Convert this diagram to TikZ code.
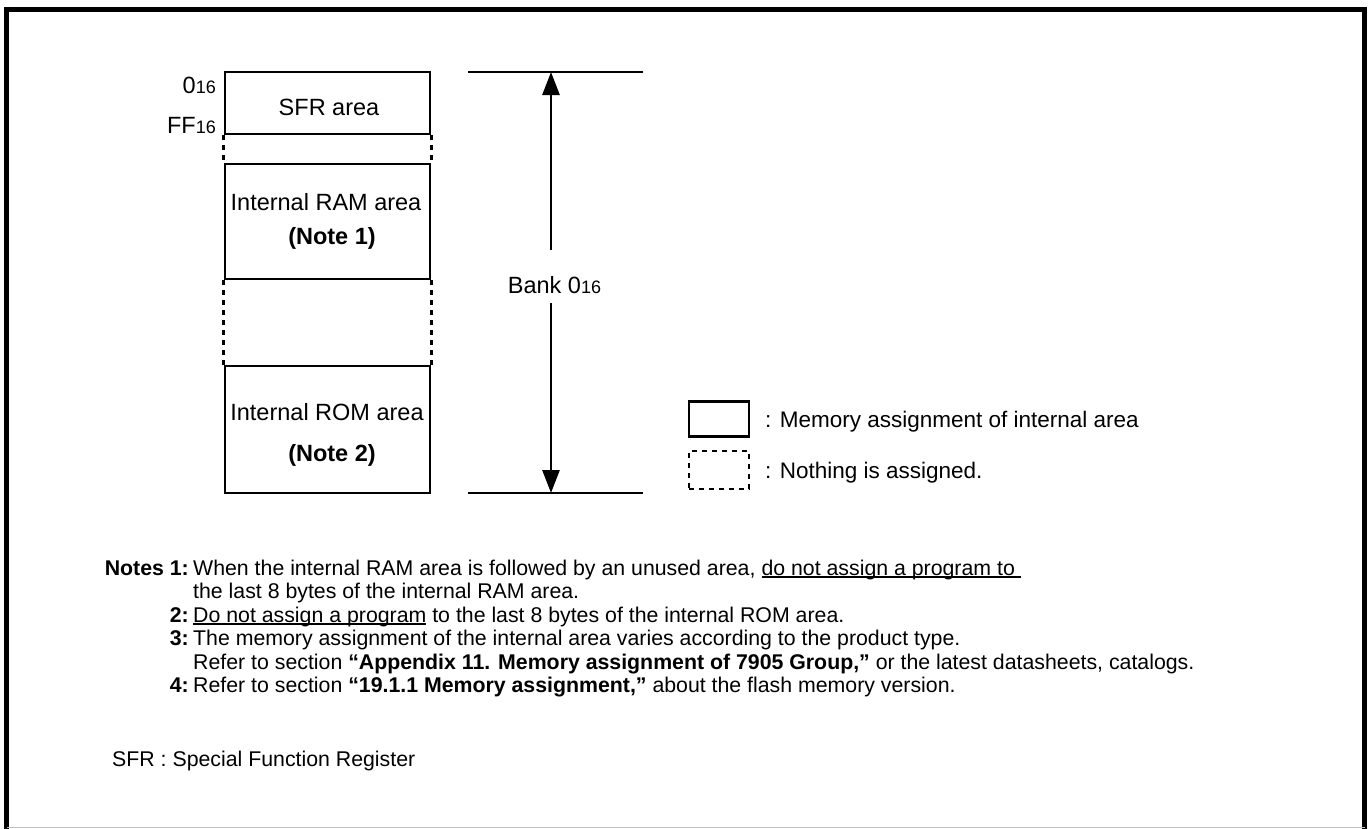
\documentclass[tikz,border=0pt]{standalone}
\usepackage{fontspec}
\setmainfont{Liberation Sans}
\usetikzlibrary{arrows.meta}
\newcommand{\diagfont}{\fontsize{23.5}{27}\selectfont}
\newcommand{\legfont}{\fontsize{22.5}{26}\selectfont}
\newcommand{\subfont}{\fontsize{18}{18}\selectfont}
\newcommand{\notesfont}{\fontsize{21.3}{25}\selectfont}
\newcommand{\hx}[1]{{\subfont #1}}
\newcommand{\ul}[1]{{\setbox0\hbox{#1}\rlap{\rule[-2.6pt]{\wd0}{1.3pt}}\box0}}
\begin{document}
\begin{tikzpicture}[x=1pt,y=-1pt,
  membox/.style={draw, line width=2.7pt, inner sep=0pt},
  dashline/.style={line width=2.4pt, dash pattern=on 5pt off 5pt},
  dtxt/.style={inner sep=0pt, font=\diagfont},
  ltxt/.style={inner sep=0pt, font=\legfont},
  ntxt/.style={inner sep=0pt, font=\notesfont},
  rule/.style={line width=1.4pt},
  bankarrow/.style={line width=2.6pt, -{Triangle[width=17pt,length=23pt]}},
  frameline/.style={line width=5pt}]
\useasboundingbox (0,0) rectangle (1369,828);
% frame
\draw[frameline] (6.5,830) -- (6.5,9) -- (1364.5,9) -- (1364.5,830);
\draw[line width=0.8pt, black!25] (6.5,827) -- (1364.5,827);

% memory boxes
\node[membox, minimum width=205pt, minimum height=62pt] (sfr) at (327.5,103) {};
\node[membox, minimum width=205pt, minimum height=115pt] (ram) at (327.5,221.5) {};
\node[membox, minimum width=205pt, minimum height=127pt] (rom) at (327.5,429.5) {};
\draw[dashline] (sfr.south west) -- (ram.north west);
\draw[dashline] (sfr.south east) -- (ram.north east);
\draw[dashline] (ram.south west) -- (rom.north west);
\draw[dashline] (ram.south east) -- (rom.north east);

% box texts
\node[dtxt, anchor=base] (sfrt) at (329,115) {SFR area};
\node[dtxt, anchor=base] (ramt) at (326,210) {Internal RAM area};
\node[dtxt, anchor=base] (ramn) at (332,244) {\bfseries (Note 1)};
\node[dtxt, anchor=base] (romt) at (327,420) {Internal ROM area};
\node[dtxt, anchor=base] (romn) at (332,461) {\bfseries (Note 2)};

% addresses
\node[dtxt, anchor=base east] (a0) at (216,93) {0\hx{16}};
\node[dtxt, anchor=base east] (aff) at (216,133) {FF\hx{16}};

% bank dimension
\coordinate (tl) at (468,72);
\coordinate (tr) at (643,72);
\coordinate (bl) at (468,493);
\coordinate (br) at (643,493);
\draw[rule] (tl) -- (tr);
\draw[rule] (bl) -- (br);
\node[dtxt, anchor=base] (bank) at (554.5,293) {Bank 0\hx{16}};
\coordinate (upfrom) at (551,250);
\coordinate (upto) at (551,72);
\coordinate (dnfrom) at (551,303);
\coordinate (dnto) at (551,493);
\draw[bankarrow] (upfrom) -- (upto);
\draw[bankarrow] (dnfrom) -- (dnto);

% legend
\node[membox, line width=2.4pt, minimum width=60pt, minimum height=35pt] (legs) at (719,419) {};
\node[draw, dashline, inner sep=0pt, minimum width=60pt, minimum height=38pt] (legd) at (719,470) {};
\node[ltxt, anchor=base west] (legst) at (765,427) {: Memory assignment of internal area};
\node[ltxt, anchor=base west] (legdt) at (765,478) {: Nothing is assigned.};

% notes
\node[ntxt, anchor=base east] (n1) at (189,575) {\bfseries Notes 1:};
\node[ntxt, anchor=base west] (t1) at (193,575) {When the internal RAM area is followed by an unused area, \ul{do not assign a program to\ }};
\node[ntxt, anchor=base west] (t1b) at (193,598.5) {the last 8 bytes of the internal RAM area.};
\node[ntxt, anchor=base east] (n2) at (189,622) {\bfseries 2:};
\node[ntxt, anchor=base west] (t2) at (193,622) {\ul{Do not assign a program} to the last 8 bytes of the internal ROM area.};
\node[ntxt, anchor=base east] (n3) at (189,645.5) {\bfseries 3:};
\node[ntxt, anchor=base west] (t3) at (193,645.5) {The memory assignment of the internal area varies according to the product type.};
\node[ntxt, anchor=base west] (t3b) at (193,669) {Refer to section \textbf{“Appendix 11. Memory assignment of 7905 Group,”} or the latest datasheets, catalogs.};
\node[ntxt, anchor=base east] (n4) at (189,692.5) {\bfseries 4:};
\node[ntxt, anchor=base west] (t4) at (193,692.5) {Refer to section \textbf{“19.1.1 Memory assignment,”} about the flash memory version.};
\node[ntxt, anchor=base west] (sfrnote) at (112,766) {SFR : Special Function Register};
\end{tikzpicture}
\end{document}
